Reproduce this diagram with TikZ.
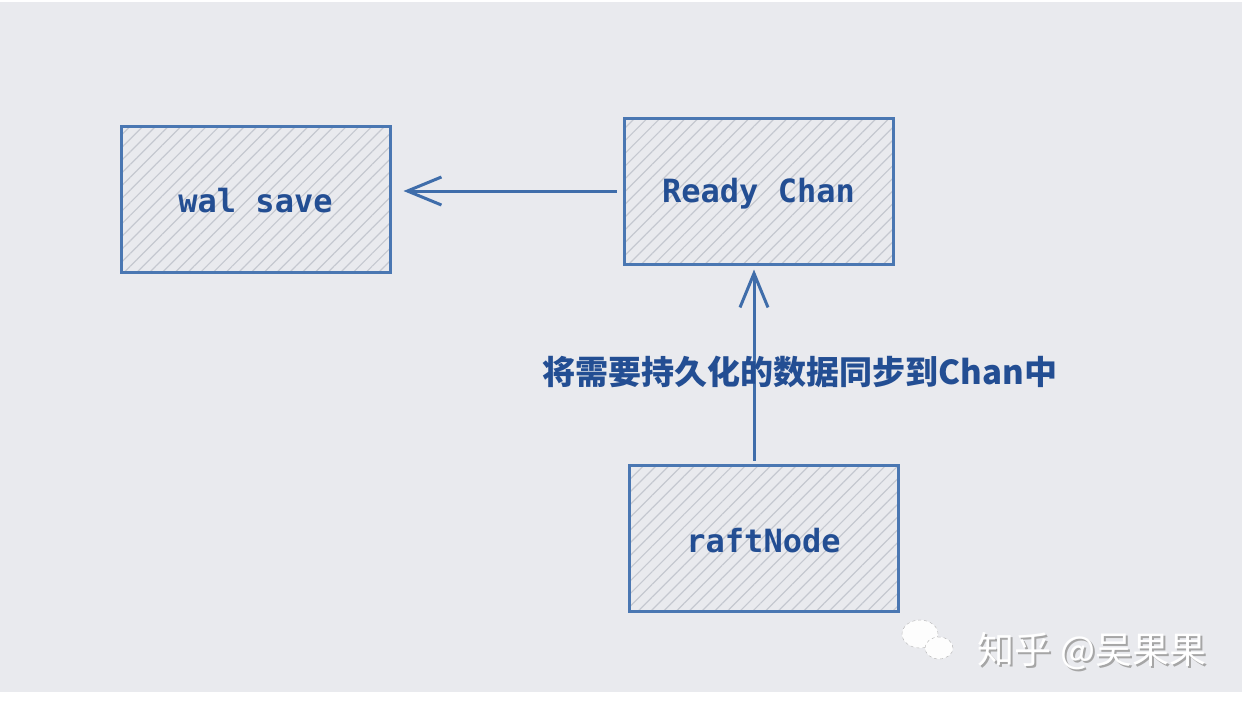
\documentclass[tikz,border=0pt]{standalone}
\usepackage{fontspec}
\newfontfamily\cjk{Noto Sans CJK SC}
\newfontfamily\monob{DejaVu Sans Mono Bold}
\usetikzlibrary{arrows.meta,patterns.meta,calc,shapes.geometric}
\definecolor{bgc}{HTML}{E9EAEE}
\definecolor{edgec}{HTML}{4A77B2}
\definecolor{txtc}{HTML}{234E93}
\definecolor{hatchc}{HTML}{C5C8D0}
\definecolor{arrc}{HTML}{3F6DAA}
\newcommand{\shiftdown}[2]{\raisebox{-#1}[\height][\depth]{#2}}
\tikzset{
  box/.style={draw=edgec, line width=3pt, minimum width=269pt, minimum height=146pt,
    inner sep=0pt,
    preaction={fill=bgc},
    preaction={pattern={Lines[angle=45,distance=9pt,line width=1.2pt]}, pattern color=hatchc},
    font=\monob\fontsize{32}{36}\selectfont, text=txtc},
  conn/.style={draw=arrc, line width=3pt, -{Straight Barb[length=34pt,width=28pt,line width=3pt]}},
  lbl/.style={font=\cjk\bfseries\fontsize{33}{38}\selectfont, text=txtc, inner sep=0pt},
  wm/.style={font=\cjk\fontsize{37}{40}\selectfont, text=white, inner sep=0pt},
  bubble/.style={draw=gray!60, dashed, fill=white!90!bgc, ellipse, inner sep=0pt}
}
\begin{document}
\begin{tikzpicture}[x=1pt,y=-1pt]
\useasboundingbox (0,0) rectangle (1244,702);
\fill[white] (0,0) rectangle (1244,702);
\fill[bgc] (0,2) rectangle (1242,692);
\node[box] (wal) at (255.5,199) {\shiftdown{2pt}{wal save}};
\node[box] (ready) at (758.5,191) {\shiftdown{3pt}{Ready Chan}};
\node[box] (raft) at (763.5,538) {\shiftdown{3pt}{raftNode}};
\coordinate (vstart) at ($(raft.north)+(-9.5,0)$);
\draw[conn, shorten <=6pt, shorten >=12pt] (ready.west) -- (ready.west -| wal.east);
\draw[conn, shorten <=3pt, shorten >=4pt] (vstart) -- (vstart |- ready.south);
\node[lbl] (label) at (800,372) {将需要持久化的数据同步到Chan中};
% watermark
\node[bubble, minimum width=36pt, minimum height=28pt] (wc1) at (920,634) {};
\node[bubble, minimum width=28pt, minimum height=22pt] (wc2) at (939,648) {};
\node[wm, text=gray!70] (wmshadow) at (1094,653) {知乎 @吴果果};
\node[wm] (wmtext) at (1092,651) {知乎 @吴果果};
\end{tikzpicture}
\end{document}
